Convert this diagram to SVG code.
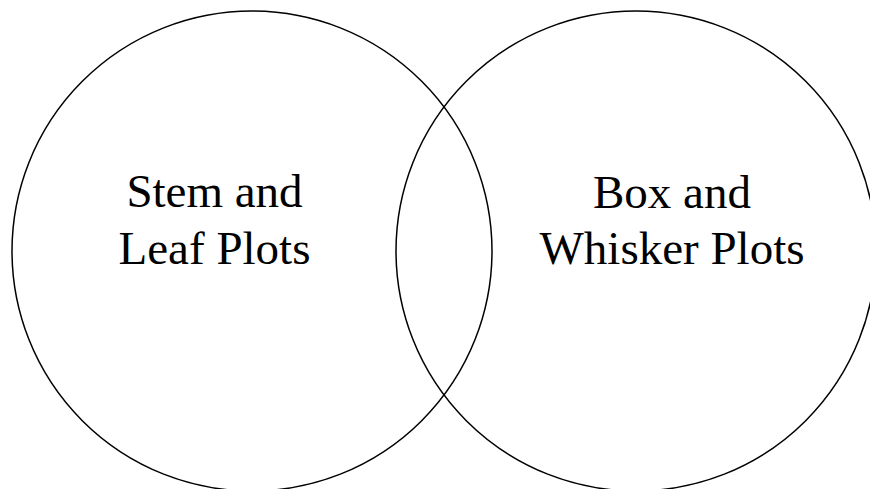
<svg xmlns="http://www.w3.org/2000/svg" width="870" height="489" viewBox="0 0 870 489">
<style>
.c{fill:none;stroke:#000;stroke-width:1.5}
.t{font-family:"Liberation Serif","Times New Roman",serif;font-size:47px;fill:#000;text-anchor:middle}
</style>
<rect width="870" height="489" fill="#fff"/>
<g id="left">
<circle class="c" cx="252" cy="251" r="240"/>
<text class="t" x="214.5" y="207">Stem and</text>
<text class="t" x="214.5" y="264">Leaf Plots</text>
</g>
<g id="right">
<circle class="c" cx="636" cy="251" r="240"/>
<text class="t" x="672" y="208">Box and</text>
<text class="t" x="672" y="264">Whisker Plots</text>
</g>
<g id="connectors"></g>
</svg>
